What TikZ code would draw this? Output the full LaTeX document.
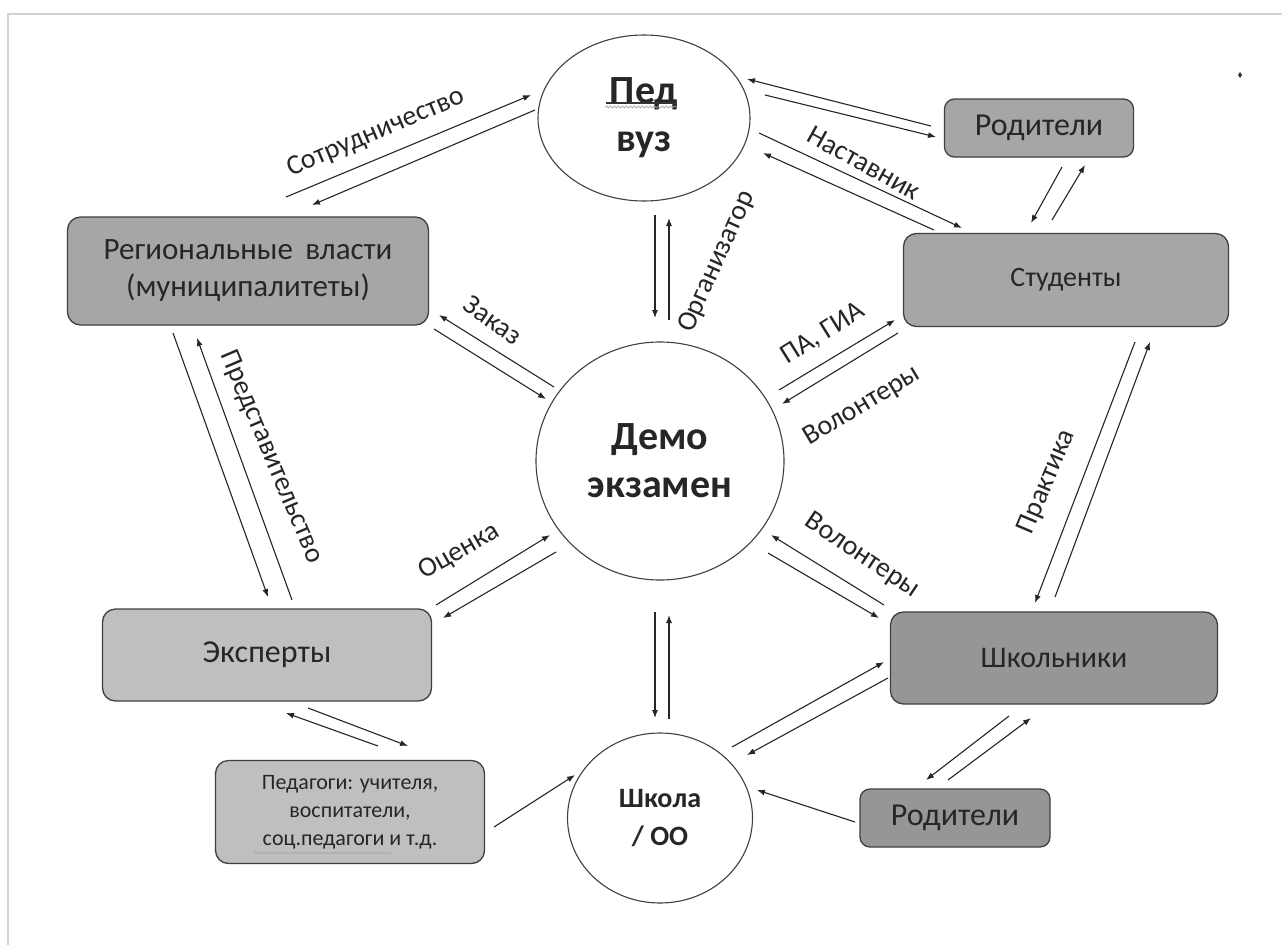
\documentclass[tikz,border=0pt]{standalone}
\usepackage{fontspec}
\setmainfont{Carlito}
\usetikzlibrary{arrows.meta,shapes.geometric,decorations.pathmorphing}

\definecolor{boxmid}{HTML}{A6A6A6}
\definecolor{boxdark}{HTML}{969696}
\definecolor{boxlight}{HTML}{BFBFBF}

\tikzset{
  box/.style={draw=black!75, line width=1.3pt, rounded corners=13pt, align=center,
    inner sep=0pt, text=black!85, font=\fontsize{31}{37}\selectfont},
  oval/.style={draw=black!75, line width=1.1pt, ellipse, fill=white, align=center,
    inner sep=0pt, text=black!85, font=\bfseries\fontsize{40}{48}\selectfont},
  arr/.style={-{Latex[length=8pt,width=6pt]}, line width=1.1pt, black!85},
  lbl/.style={text=black!85, font=\fontsize{28}{32}\selectfont, inner sep=0pt},
}

\begin{document}
\begin{tikzpicture}[x=1pt, y=-1pt]
  \useasboundingbox (0,0) rectangle (1282,945);
  \fill[white] (0,0) rectangle (1282,945);
  \draw[gray!35, line width=1.5pt] (8,945) -- (8,14) -- (1282,14);

  % circles
  \node[oval, minimum width=212pt, minimum height=166pt] (vuz) at (644,118) {Пед\\вуз};
  \node[oval, minimum width=248pt, minimum height=238pt] (demo) at (660,461) {Демо\\экзамен};
  \node[oval, minimum width=185pt, minimum height=170pt, font=\bfseries\fontsize{28}{38}\selectfont] (school) at (660,818) {Школа\\/ ОО};

  % boxes
  \node[box, fill=boxmid, minimum width=361pt, minimum height=108pt] (reg) at (248,271) {Региональные\hspace{0.4em}власти\\(муниципалитеты)};
  \node[box, fill=boxmid, minimum width=325pt, minimum height=93pt, font=\fontsize{28}{34}\selectfont] (stud) at (1066,280) {Студенты};
  \node[box, fill=boxmid, minimum width=189pt, minimum height=58pt, rounded corners=10pt, font=\fontsize{32}{38}\selectfont] (rodA) at (1039,128) {Родители};
  \node[box, fill=boxlight, minimum width=329pt, minimum height=92pt, font=\fontsize{32}{38}\selectfont] (exp) at (267,655) {Эксперты};
  \node[box, fill=boxdark, minimum width=327pt, minimum height=92pt, font=\fontsize{30}{36}\selectfont] (shk) at (1054,658) {Школьники};
  \node[box, fill=boxlight, minimum width=269pt, minimum height=103pt, font=\fontsize{22}{28}\selectfont] (ped) at (350,812) {Педагоги: учителя,\\воспитатели,\\соц.педагоги и т.д.};
  \node[box, fill=boxdark, minimum width=190pt, minimum height=58pt, rounded corners=10pt, font=\fontsize{32}{38}\selectfont] (rodB) at (955,818) {Родители};

  % spell-check marks
  \draw[black!80, line width=1.4pt] ([shift={(-38,-15)}]vuz.center) -- ([shift={(32,-15)}]vuz.center);
  \draw[gray!70, line width=0.7pt, decorate, decoration={snake, amplitude=1pt, segment length=4pt}]
    ([shift={(-39,-11)}]vuz.center) -- ([shift={(33,-11)}]vuz.center);
  \draw[gray!70, line width=0.7pt, decorate, decoration={snake, amplitude=1pt, segment length=4pt}]
    ([shift={(-96,41)}]ped.center) -- ([shift={(42,41)}]ped.center);
  \fill[black!80] (1238,75) -- (1240,72) -- (1242,75) -- (1240,78) -- cycle;

  % Пед вуз -- Региональные власти
  \draw[arr] ([shift={(38,-74)}]reg.center) -- ([shift={(-113,-23)}]vuz.center);
  \draw[arr] ([shift={(-109,-8)}]vuz.center) -- ([shift={(64,-66)}]reg.center);
  % Пед вуз -- Родители
  \draw[arr] ([shift={(-108,-2)}]rodA.center) -- ([shift={(103,-39)}]vuz.center);
  \draw[arr] ([shift={(121,-23)}]vuz.center) -- ([shift={(-103,9)}]rodA.center);
  % Пед вуз -- Студенты
  \draw[arr] ([shift={(115,15)}]vuz.center) -- ([shift={(-104,-52)}]stud.center);
  \draw[arr] ([shift={(-132,-50)}]stud.center) -- ([shift={(119,35)}]vuz.center);
  % Родители -- Студенты
  \draw[arr] ([shift={(23,39)}]rodA.center) -- ([shift={(-35,-57)}]stud.center);
  \draw[arr] ([shift={(-14,-60)}]stud.center) -- ([shift={(46,37)}]rodA.center);
  % Пед вуз -- Демо экзамен
  \draw[arr] ([shift={(11,97)}]vuz.center) -- ([shift={(-5,-143)}]demo.center);
  \draw[arr] ([shift={(9,-141)}]demo.center) -- ([shift={(25,100)}]vuz.center);
  % Региональные власти -- Демо экзамен
  \draw[arr] ([shift={(-106,-74)}]demo.center) -- ([shift={(191,44)}]reg.center);
  \draw[arr] ([shift={(186,58)}]reg.center) -- ([shift={(-114,-62)}]demo.center);
  % Демо экзамен -- Студенты
  \draw[arr] ([shift={(119,-71)}]demo.center) -- ([shift={(-171,40)}]stud.center);
  \draw[arr] ([shift={(-168,53)}]stud.center) -- ([shift={(122,-57)}]demo.center);
  % Эксперты -- Демо экзамен
  \draw[arr] ([shift={(169,-50)}]exp.center) -- ([shift={(-110,74)}]demo.center);
  \draw[arr] ([shift={(-104,91)}]demo.center) -- ([shift={(176,-37)}]exp.center);
  % Школьники -- Демо экзамен
  \draw[arr] ([shift={(-170,-53)}]shk.center) -- ([shift={(111,74)}]demo.center);
  \draw[arr] ([shift={(108,92)}]demo.center) -- ([shift={(-175,-40)}]shk.center);
  % Демо экзамен -- Школа
  \draw[arr] ([shift={(-5,151)}]demo.center) -- ([shift={(-5,-100)}]school.center);
  \draw[arr] ([shift={(9,-99)}]school.center) -- ([shift={(9,154)}]demo.center);
  % Региональные власти -- Эксперты
  \draw[arr] ([shift={(-75,62)}]reg.center) -- ([shift={(1,-58)}]exp.center);
  \draw[arr] ([shift={(25,-55)}]exp.center) -- ([shift={(-51,67)}]reg.center);
  % Студенты -- Школьники
  \draw[arr] ([shift={(69,62)}]stud.center) -- ([shift={(-19,-55)}]shk.center);
  \draw[arr] ([shift={(1,-61)}]shk.center) -- ([shift={(84,62)}]stud.center);
  % Эксперты -- Педагоги
  \draw[arr] ([shift={(28,-66)}]ped.center) -- ([shift={(19,58)}]exp.center);
  \draw[arr] ([shift={(41,53)}]exp.center) -- ([shift={(58,-66)}]ped.center);
  % Педагоги -- Школа
  \draw[arr] ([shift={(144,15)}]ped.center) -- ([shift={(-85,-43)}]school.center);
  % Школа -- Школьники
  \draw[arr] ([shift={(72,-71)}]school.center) -- ([shift={(-170,4)}]shk.center);
  \draw[arr] ([shift={(-166,20)}]shk.center) -- ([shift={(87,-63)}]school.center);
  % Школьники -- Родители
  \draw[arr] ([shift={(-45,58)}]shk.center) -- ([shift={(-29,-38)}]rodB.center);
  \draw[arr] ([shift={(-7,-38)}]rodB.center) -- ([shift={(-23,60)}]shk.center);
  % Родители -- Школа
  \draw[arr] ([shift={(-100,4)}]rodB.center) -- ([shift={(97,-28)}]school.center);

  % labels
  \node[lbl, rotate=23] (lsotr) at (376,133) {Сотрудничество};
  \node[lbl, rotate=-29] (lnast) at (864,163) {Наставник};
  \node[lbl, rotate=66] (lorg) at (717,262) {Организатор};
  \node[lbl, rotate=-35] (lzak) at (493,320) {Заказ};
  \node[lbl, rotate=32] (lpa) at (823,334) {ПА, ГИА};
  \node[lbl, rotate=31] (lvolA) at (862,406) {Волонтеры};
  \node[lbl, rotate=30] (lots) at (459,552) {Оценка};
  \node[lbl, rotate=-34] (lvolB) at (862,556) {Волонтеры};
  \node[lbl, rotate=-67] (lpred) at (271,457) {Представительство};
  \node[lbl, rotate=67] (lprak) at (1047,482) {Практика};
\end{tikzpicture}
\end{document}
